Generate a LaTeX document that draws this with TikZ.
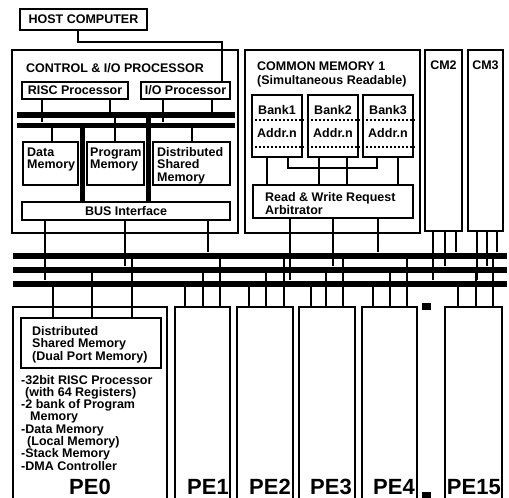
\documentclass[tikz,border=0pt]{standalone}
\usepackage{fontspec}
\setmainfont{Liberation Sans}
\usetikzlibrary{fit,calc}
\tikzset{
  box/.style={draw, line width=2.1pt, inner sep=0pt},
  bigbox/.style={draw, line width=2.7pt, inner sep=0pt},
  pebox/.style={draw, line width=2.5pt, inner sep=0pt},
  barbox/.style={fill=black, inner sep=0pt},
  wire/.style={line width=2pt},
  thickwire/.style={line width=4.5pt},
  txt/.style={font=\bfseries\fontsize{12.5}{13}\selectfont, inner sep=0pt},
  pelab/.style={font=\bfseries\fontsize{22}{23}\selectfont, inner sep=0pt},
  dotl/.style={line width=2.2pt, dash pattern=on 2.2pt off 1.8pt},
}
\newcommand\bx[6]{\node[#1, fit={(#3,#4) (#5,#6)}] (#2) {};}
\newcommand\vw[3]{\coordinate (vwx) at (#1,0); \draw[wire] (#2 -| vwx) -- (#3 -| vwx);}
\begin{document}
\begin{tikzpicture}[x=1pt,y=-1pt]
\useasboundingbox (0,0) rectangle (509,498);
\clip (0,0) rectangle (509,498);
% ---------- boxes ----------
\bx{box}{host}{20}{9}{147}{30}
\bx{bigbox}{ctrl}{12}{50}{238}{233}
\bx{box}{risc}{22}{82}{128}{99}
\bx{box}{iop}{141}{82}{230}{99}
\bx{barbox}{ibusa}{17}{112}{235}{118}
\bx{barbox}{ibusb}{17}{122.5}{235}{128}
\bx{box}{dmem}{23}{142}{78}{185}
\bx{box}{pmem}{87}{142}{144}{185}
\bx{box}{dsm}{153}{142}{230}{185}
\bx{box}{busif}{22}{202}{230}{220}
\bx{bigbox}{cm1}{245}{50}{420}{233}
\bx{box}{bank1}{252}{95}{302}{157}
\bx{box}{bank2}{308}{95}{358}{157}
\bx{box}{bank3}{363}{95}{413}{157}
\bx{box}{arb}{253}{185}{413}{218}
\bx{bigbox}{cm2}{425}{50}{462}{231}
\bx{bigbox}{cm3}{468}{50}{503}{231}
\bx{barbox}{busa}{13}{252.5}{507}{259}
\bx{barbox}{busb}{13}{266.5}{507}{273}
\bx{barbox}{busc}{13}{280.5}{507}{287}
\bx{pebox}{pe0}{13}{307}{167}{510}
\bx{pebox}{pe1}{175}{307}{230}{510}
\bx{pebox}{pe2}{237}{307}{293}{510}
\bx{pebox}{pe3}{299}{307}{355}{510}
\bx{pebox}{pe4}{362}{307}{417}{510}
\bx{pebox}{pe15}{445}{307}{502}{510}
\bx{box}{pdsm}{21}{318}{161}{368}
\bx{barbox}{sqa}{422}{303}{431}{310}
\bx{barbox}{sqb}{422}{492}{431}{499}
% ---------- host link ----------
\coordinate (hk1) at (78,42);
\coordinate (hk2) at (222,42);
\draw[wire] (host.south -| hk1) -- (hk1) -- (hk2) -- (iop.north -| hk2);
% ---------- internal bus ----------
\vw{42}{risc.south}{ibusb.north}
\vw{110}{risc.south}{ibusa.north}
\vw{163}{iop.south}{ibusb.north}
\vw{212}{iop.south}{ibusa.north}
\vw{52}{ibusb.south}{dmem.north}
\vw{115}{ibusa.south}{pmem.north}
\vw{192}{ibusb.south}{dsm.north}
\coordinate (tk1) at (82.5,0);
\coordinate (tk2) at (148.5,0);
\draw[thickwire] (ibusb.south -| tk1) -- (busif.north -| tk1);
\draw[thickwire] (ibusa.south -| tk2) -- (busif.north -| tk2);
% ---------- control to main bus ----------
\vw{45}{busif.south}{busc.north}
\vw{125}{busif.south}{busb.north}
\vw{208}{busif.south}{busa.north}
% ---------- common memory ----------
\vw{267}{bank1.south}{arb.north}
\vw{319}{bank2.south}{arb.north}
\vw{347}{bank2.south}{arb.north}
\vw{398}{bank3.south}{arb.north}
\coordinate (bj1) at (288,168);
\coordinate (bj2) at (377,168);
\draw[wire] (bank1.south -| bj1) -- (bj1) -- (bj2) -- (bank3.south -| bj2);
\vw{290}{arb.south}{busc.north}
\vw{333}{arb.south}{busb.north}
\vw{378}{arb.south}{busa.north}
\vw{433}{cm2.south}{busc.north}
\vw{445}{cm2.south}{busb.north}
\vw{456}{cm2.south}{busa.north}
\vw{477}{cm3.south}{busc.north}
\vw{487}{cm3.south}{busb.north}
\vw{497}{cm3.south}{busa.north}
% ---------- PEs to main bus ----------
\vw{53}{busc.south}{pdsm.north}
\vw{92}{busb.south}{pdsm.north}
\vw{132}{busa.south}{pdsm.north}
\vw{185}{busc.south}{pe1.north}
\vw{203}{busb.south}{pe1.north}
\vw{220}{busa.south}{pe1.north}
\vw{249}{busc.south}{pe2.north}
\vw{266}{busb.south}{pe2.north}
\vw{284}{busa.south}{pe2.north}
\vw{311}{busc.south}{pe3.north}
\vw{326}{busb.south}{pe3.north}
\vw{343}{busa.south}{pe3.north}
\vw{373}{busc.south}{pe4.north}
\vw{390}{busb.south}{pe4.north}
\vw{407}{busa.south}{pe4.north}
\vw{458}{busc.south}{pe15.north}
\vw{476}{busb.south}{pe15.north}
\vw{493}{busa.south}{pe15.north}
% ---------- dotted lines in banks ----------
\foreach \b in {bank1,bank2,bank3}{
  \coordinate (dy1) at (0,120);
  \coordinate (dy2) at (0,147);
  \draw[dotl] (\b.west |- dy1) -- (\b.east |- dy1);
  \draw[dotl] (\b.west |- dy2) -- (\b.east |- dy2);
}
% ---------- texts ----------
\node[txt] (thost) at (host.center) {HOST COMPUTER};
\node[txt, anchor=base] (tctrl) at (115,72.5) {CONTROL \& I/O PROCESSOR};
\node[txt] (trisc) at (risc.center) {RISC Processor};
\node[txt] (tiop) at (iop.center) {I/O Processor};
\node[txt, anchor=base west] (tdm1) at (27,156) {Data};
\node[txt, anchor=base west] (tdm2) at (27,168) {Memory};
\node[txt, anchor=base west] (tpm1) at (90,156) {Program};
\node[txt, anchor=base west] (tpm2) at (90,168) {Memory};
\node[txt, anchor=base west] (tds1) at (157,156) {Distributed};
\node[txt, anchor=base west] (tds2) at (157,168.5) {Shared};
\node[txt, anchor=base west] (tds3) at (157,181) {Memory};
\node[txt] (tbus) at (busif.center) {BUS Interface};
\node[txt, anchor=base west] (tcm1) at (257,70) {COMMON MEMORY 1};
\node[txt, anchor=base west] (tcm2) at (257,84) {(Simultaneous Readable)};
\foreach \b/\n in {bank1/1,bank2/2,bank3/3}{
  \coordinate (by1) at (0,114);
  \coordinate (by2) at (0,137);
  \node[txt, anchor=base] (tb\n) at (\b.center |- by1) {Bank\n};
  \node[txt, anchor=base] (ta\n) at (\b.center |- by2) {Addr.n};
}
\node[txt, anchor=base west] (tarb1) at (265,201) {Read \& Write Request};
\node[txt, anchor=base west] (tarb2) at (265,214) {Arbitrator};
\node[txt, anchor=base] (tcm2l) at (443.5,69) {CM2};
\node[txt, anchor=base] (tcm3l) at (485.5,69) {CM3};
\node[txt, anchor=base west] (tpd1) at (32,335) {Distributed};
\node[txt, anchor=base west] (tpd2) at (32,347.5) {Shared Memory};
\node[txt, anchor=base west] (tpd3) at (32,360) {(Dual Port Memory)};
\node[txt, anchor=base west] (tl1) at (21,384) {-32bit RISC Processor};
\node[txt, anchor=base west] (tl2) at (25,396.3) {(with 64 Registers)};
\node[txt, anchor=base west] (tl3) at (21,408.6) {-2 bank of Program};
\node[txt, anchor=base west] (tl4) at (30,420.9) {Memory};
\node[txt, anchor=base west] (tl5) at (21,433.2) {-Data Memory};
\node[txt, anchor=base west] (tl6) at (27,445.5) {(Local Memory)};
\node[txt, anchor=base west] (tl7) at (21,457.8) {-Stack Memory};
\node[txt, anchor=base west] (tl8) at (21,470.1) {-DMA Controller};
\node[pelab, anchor=base] (lpe0) at (90,494) {PE0};
\node[pelab, anchor=base east] (lpe1) at (229,494) {PE1};
\node[pelab, anchor=base east] (lpe2) at (291,494) {PE2};
\node[pelab, anchor=base east] (lpe3) at (352,494) {PE3};
\node[pelab, anchor=base east] (lpe4) at (415,494) {PE4};
\node[pelab, anchor=base east] (lpe15) at (501,494) {PE15};
\end{tikzpicture}
\end{document}
